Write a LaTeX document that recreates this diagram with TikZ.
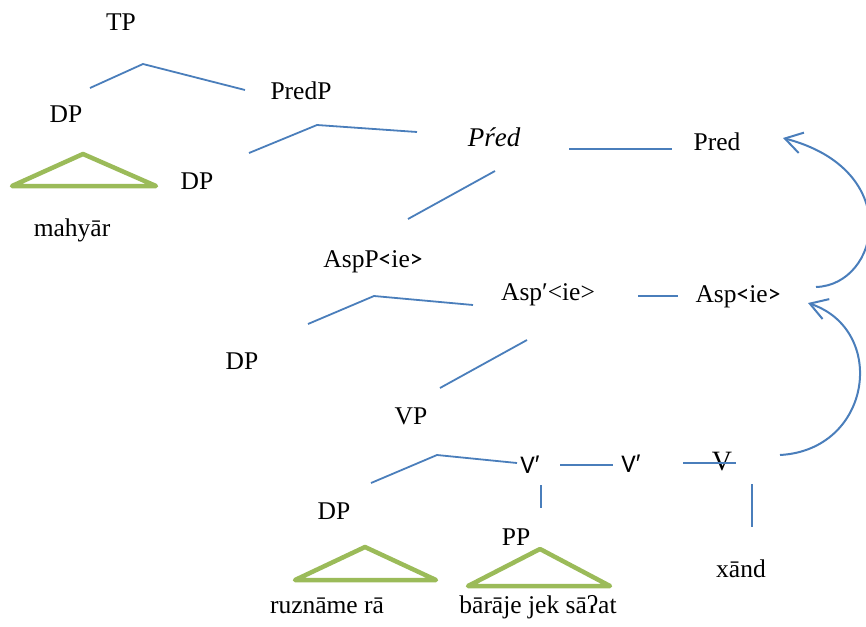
\documentclass[tikz,border=0pt]{standalone}
\usepackage{fontspec}
\setmainfont{Liberation Serif}
\newfontfamily\calib{Carlito}
\newfontfamily\arialf{Liberation Sans}
\usetikzlibrary{arrows.meta}
\definecolor{branch}{HTML}{4A7EBB}
\definecolor{leaf}{HTML}{9BBB59}
\begin{document}
\begin{tikzpicture}[x=1pt,y=-1pt,
  lab/.style={anchor=base, inner sep=0pt, font=\fontsize{25.5}{30}\selectfont},
  br/.style={draw=branch, line width=1.8pt},
  tri/.style={draw=leaf, line width=4.5pt, line join=round},
  mv/.style={draw=branch, line width=2pt, -{Straight Barb[length=17pt,width=21pt,line width=2pt]}}]
\useasboundingbox (0,0) rectangle (866,626);
\clip (0,0) rectangle (866,626);

% labels
\node[lab] (tp)    at (121,31)  {TP};
\node[lab] (dp1)   at (66,122)  {DP};
\node[lab] (predp) at (301,99)  {PredP};
\node[lab] (dp2)   at (197,189) {DP};
\node[lab] (mahyar) at (72,236) {mahyār};
\node[lab] (predbar) at (494,146) {\fontsize{27}{30}\selectfont\itshape Pŕed};
\node[lab] (pred)  at (717,150) {Pred};
\node[lab] (aspp)  at (373,267) {AspP{\calib<}ie{\calib>}};
\node[lab] (aspbar) at (548,300) {Asp′<ie>};
\node[lab] (asp)   at (738,302) {Asp{\calib<}ie{\calib>}};
\node[lab] (dp3)   at (242,369) {DP};
\node[lab] (vp)    at (411,424) {VP};
\node[lab] (dp4)   at (334,519) {DP};
\node[lab] (vbara) at (530,473) {{\calib V}{\arialf ′}};
\node[lab] (vbarb) at (631,472) {{\calib V}{\arialf ′}};
\node[lab] (v)     at (722,470) {\fontsize{28}{30}\selectfont V};
\node[lab] (pp)    at (516,545) {PP};
\node[lab] (xand)  at (741,577) {xānd};
\node[lab] (ruz)   at (327,613) {ruznāme rā};
\node[lab] (bar)   at (538,613) {bārāje jek sāʔat};

% branch points and line ends
\coordinate (a1) at (90,88);   \coordinate (a2) at (143,64);  \coordinate (a3) at (245,90);
\coordinate (b1) at (249,153); \coordinate (b2) at (317,125); \coordinate (b3) at (417,132);
\coordinate (c1) at (569,149); \coordinate (c2) at (672,149);
\coordinate (d1) at (495,171); \coordinate (d2) at (408,219);
\coordinate (e1) at (308,324); \coordinate (e2) at (374,296); \coordinate (e3) at (473,305);
\coordinate (f1) at (638,296); \coordinate (f2) at (678,296);
\coordinate (g1) at (527,340); \coordinate (g2) at (440,388);
\coordinate (h1) at (371,483); \coordinate (h2) at (437,455); \coordinate (h3) at (517,463);
\coordinate (i1) at (560,465); \coordinate (i2) at (613,465);
\coordinate (j1) at (683,463); \coordinate (j2) at (736,463);
\coordinate (k1) at (541,485); \coordinate (k2) at (541,508);
\coordinate (l1) at (752,484); \coordinate (l2) at (752,527);

\draw[br] (a1) -- (a2) -- (a3);
\draw[br] (b1) -- (b2) -- (b3);
\draw[br] (c1) -- (c2);
\draw[br] (d1) -- (d2);
\draw[br] (e1) -- (e2) -- (e3);
\draw[br] (f1) -- (f2);
\draw[br] (g1) -- (g2);
\draw[br] (h1) -- (h2) -- (h3);
\draw[br] (i1) -- (i2);
\draw[br] (j1) -- (j2);
\draw[br] (k1) -- (k2);
\draw[br] (l1) -- (l2);

% leaf triangles
\draw[tri] (83,154) -- (156,186) -- (12,186) -- cycle;
\draw[tri] (365,547) -- (436,580) -- (295,580) -- cycle;
\draw[tri] (540,549) -- (610,586) -- (468,586) -- cycle;

% movement arrows
\coordinate (vout) at (780,455);   \coordinate (aspin) at (808,303);
\coordinate (aspout) at (816,287); \coordinate (predin) at (783,138);
\draw[mv] (vout) .. controls (872,450) and (888,330) .. (aspin);
\draw[mv] (aspout) .. controls (880,285) and (905,170) .. (predin);
\end{tikzpicture}
\end{document}
